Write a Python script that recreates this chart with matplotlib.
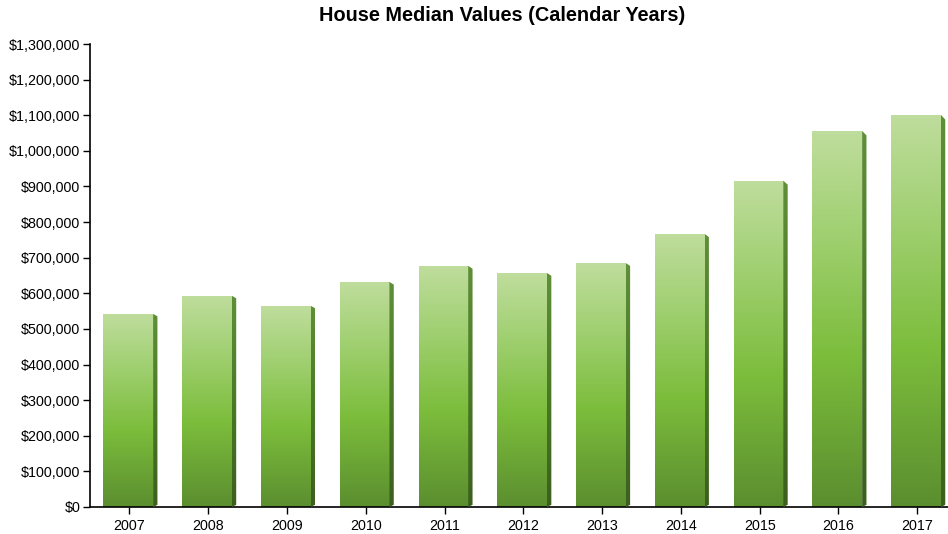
import numpy as np
import matplotlib.pyplot as plt
from matplotlib.colors import LinearSegmentedColormap
from matplotlib.ticker import FuncFormatter, MultipleLocator
from matplotlib.patches import Polygon

years = ["2007", "2008", "2009", "2010", "2011", "2012", "2013", "2014", "2015", "2016", "2017"]
median_values = [542000, 593000, 565000, 632000, 677000, 657000, 685000, 767000, 916000, 1056000, 1101000]

plt.rcParams['font.family'] = ['Liberation Sans', 'DejaVu Sans']

fig = plt.figure(figsize=(9.48, 5.34), dpi=100)
ax = fig.add_axes([0.095, 0.0506, 0.905, 0.8670])

face_cmap = LinearSegmentedColormap.from_list(
    'face', [(0.0, '#5b8e2f'), (0.40, '#7cbd3c'), (0.75, '#a3d175'), (1.0, '#bfdd9d')])
side_cmap = LinearSegmentedColormap.from_list(
    'side', [(0.0, '#3c5f1e'), (0.5, '#4a7a26'), (1.0, '#5f8f38')])

x = np.arange(len(years))
width = 0.63
side = 0.055
grad = np.linspace(0, 1, 256).reshape(-1, 1)

bars = ax.bar(x - 0.015, median_values, width=width, color='none', edgecolor='none')
for xi, bar, val in zip(x, bars, median_values):
    x0 = bar.get_x()
    x1 = x0 + bar.get_width()
    im = ax.imshow(grad, cmap=face_cmap, origin='lower', aspect='auto',
                   extent=(x0, x1, 0, val), zorder=2)
    im.set_clip_path(bar)
    # dark bevel on the right side
    slant = val * 0.012
    side_poly = Polygon([(x1, 0), (x1 + side, 6000), (x1 + side, val - slant), (x1, val)],
                        closed=True, facecolor='none', edgecolor='none', zorder=3)
    ax.add_patch(side_poly)
    ims = ax.imshow(grad, cmap=side_cmap, origin='lower', aspect='auto',
                    extent=(x1, x1 + side, 0, val), zorder=3)
    ims.set_clip_path(side_poly)

ax.set_xlim(-0.5, 10.39)
ax.set_ylim(0, 1300000)
ax.set_xticks(x)
ax.set_xticklabels(years)
ax.yaxis.set_major_locator(MultipleLocator(100000))
ax.yaxis.set_major_formatter(FuncFormatter(lambda v, p: f"${v:,.0f}"))
ax.tick_params(axis='both', labelsize=10.3, length=5, width=1, colors='black', direction='out')
ax.tick_params(axis='y', pad=2)
ax.tick_params(axis='x', pad=4)
ax.spines['top'].set_visible(False)
ax.spines['right'].set_visible(False)
ax.spines['left'].set_linewidth(1.2)
ax.spines['bottom'].set_linewidth(1.2)

fig.suptitle('House Median Values (Calendar Years)', x=0.53, y=0.988, fontsize=14.3, fontweight='bold')

fig.savefig('out.png', dpi=100)
